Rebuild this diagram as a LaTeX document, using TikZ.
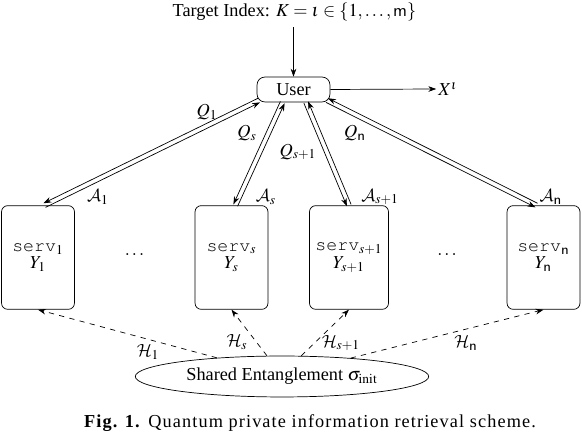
\documentclass[tikz,border=0pt]{standalone}
\usepackage{amsmath,amssymb}
\usepackage{mathptmx}
\DeclareMathAlphabet{\mathcal}{OMS}{cmsy}{m}{n}
\usepackage{fontspec}
\setmainfont{Liberation Serif}
\newcommand{\servtt}{{\usefont{OT1}{pcr}{m}{n}serv}}
\usepackage{tikz}
\usetikzlibrary{shapes.geometric,arrows.meta,positioning,calc}

\begin{document}
\begin{tikzpicture}[x=0.02cm,y=0.02cm,
    >={Stealth[length=4.5pt,width=3.2pt]},
    every node/.style={font=\fontsize{10.4}{12}\selectfont},
    server/.style={draw,rounded corners=3.5pt,minimum width=41.5pt,minimum height=59pt,align=center},
    userbox/.style={draw,rounded corners=4.5pt,minimum width=41.5pt,minimum height=14.2pt,inner sep=1pt}]
    \useasboundingbox (0,0) rectangle (582,432);
    % Target index and user
    \node (title) at (294.5,420) {Target Index: $K=\iota\in\{1,\ldots,\mathsf{m}\}$};
    \node[userbox] (user) at (293.5,342.5) {User};
    \node[inner sep=1pt] (xout) at (448,343) {$X^{\iota}$};
    \draw[->] (title.south -| user.north) -- (user.north);
    \draw[->] (user.east) -- (xout.west);

    % Servers
    \node[server] (s1) at (38,174.5) {\servtt$_1$\\[-2pt]$Y_1$};
    \node[server] (ss) at (231.5,174.5) {\servtt$_s$\\[-2pt]$Y_s$};
    \node[server] (st) at (349,174.5) {\servtt$_{s+1}$\\[-2pt]$Y_{s+1}$};
    \node[server] (sn) at (543.5,174.5) {\servtt$_{\mathsf{n}}$\\[-2pt]$Y_{\mathsf{n}}$};
    \node (dots1) at (134.5,177) {$\ldots$};
    \node (dots2) at (447,177) {$\ldots$};

    % Queries and answers
    \def\gap{1.3pt}
    \coordinate (u1) at ($(user.south)+(-34.5,2)$);
    \coordinate (us) at ($(user.south)+(-11,0)$);
    \coordinate (ut) at ($(user.south)+(12.5,0)$);
    \coordinate (un) at ($(user.south)+(33.5,2)$);
    \coordinate (t1) at ($(s1.north)+(6.5,0)$);
    \coordinate (ts) at ($(ss.north)+(4,0)$);
    \coordinate (tt) at ($(st.north)+(0,0)$);
    \coordinate (tn) at ($(sn.north)+(-7,0)$);
    \foreach \u/\s in {u1/t1,us/ts,ut/tt,un/tn} {
        \draw[->] ($(\u)!\gap!-90:(\s)$) -- ($(\s)!\gap!90:(\u)$);
        \draw[->] ($(\s)!\gap!-90:(\u)$) -- ($(\u)!\gap!90:(\s)$);
    }
    \node (q1) at (207,320) {$Q_1$};
    \node (a1) at (98,235) {$\mathcal{A}_1$};
    \node (qs) at (247,299) {$Q_s$};
    \node (as) at (266,235) {$\mathcal{A}_s$};
    \node (qt) at (298,280) {$Q_{s+1}$};
    \node (at) at (380,235) {$\mathcal{A}_{s+1}$};
    \node (qn) at (355,299) {$Q_{\mathsf{n}}$};
    \node (an) at (551,235) {$\mathcal{A}_{\mathsf{n}}$};

    % Shared entanglement
    \node[draw,ellipse,minimum width=167pt,minimum height=23.3pt,inner sep=0pt] (ent) at (282,55.5) {Shared Entanglement $\sigma_{\mathrm{init}}$};
    \draw[dashed,->] (ent.164) -- (s1.south);
    \draw[dashed,->] (ent.126) -- (ss.south);
    \draw[dashed,->] (ent.47) -- (st.south);
    \draw[dashed,->] (ent.15) -- (sn.south);
    \node (h1) at (148,80) {$\mathcal{H}_1$};
    \node (hs) at (237,90) {$\mathcal{H}_s$};
    \node (ht) at (341,89) {$\mathcal{H}_{s+1}$};
    \node (hn) at (466,89) {$\mathcal{H}_{\mathsf{n}}$};

    % Caption
    \node (caption) at (310,9) {\addfontfeatures{LetterSpace=6}\textbf{Fig. 1.} Quantum private information retrieval scheme.};
\end{tikzpicture}
\end{document}
